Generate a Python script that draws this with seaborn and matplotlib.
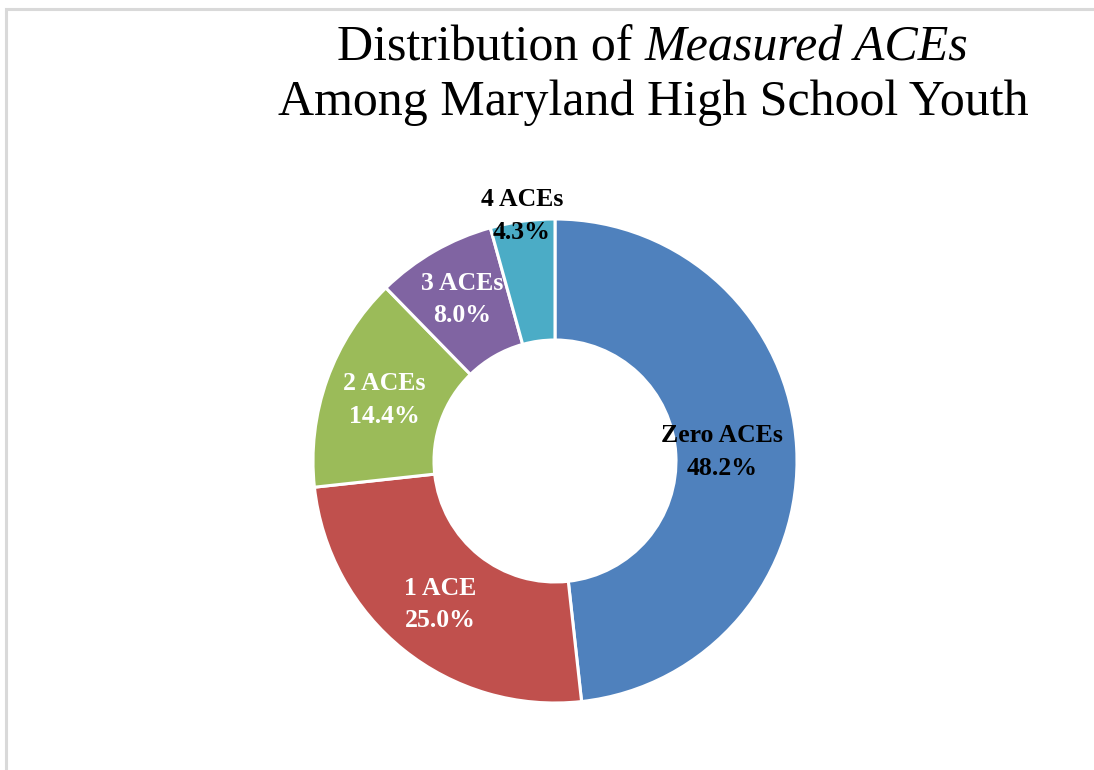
"""Donut chart: distribution of measured ACEs among Maryland high school youth"""

import numpy as np
import seaborn as sns
import matplotlib.pyplot as plt
from matplotlib.patches import Rectangle

sns.set_style("white")
plt.rcParams['font.family'] = ['Liberation Serif', 'DejaVu Serif']
plt.rcParams['text.color'] = 'black'

# data
categories = ['Zero ACEs', '1 ACE', '2 ACEs', '3 ACEs', '4 ACEs']
shares = [48.2, 25.0, 14.4, 8.0, 4.3]
colors = sns.color_palette(['#4F81BD', '#C0504D', '#9BBB59', '#8064A2', '#4BACC6'])
label_colors = ['black', 'white', 'white', 'white', 'black']
label_radius = [0.69, 0.76, 0.75, 0.77, 1.02]

W, H = 1094, 770
fig = plt.figure(figsize=(W / 100, H / 100), dpi=100)

# light frame at top/left like the source screenshot
fig.patches.append(Rectangle((6 / W, -0.1), 1.2, 1 - 9 / H + 0.1, transform=fig.transFigure,
                             fill=False, edgecolor='#D9D9D9', linewidth=2.2))

cx, cy, R = 555, 770 - 461, 242
ax = fig.add_axes([(cx - R) / W, (cy - R) / H, 2 * R / W, 2 * R / H])
wedges, _ = ax.pie(shares, colors=colors, startangle=90, counterclock=False,
                   radius=1, wedgeprops=dict(width=0.5, edgecolor='white', linewidth=2.2))
ax.set_xlim(-1, 1)
ax.set_ylim(-1, 1)
ax.set_aspect('equal')
ax.axis('off')

for w, name, val, tc, r in zip(wedges, categories, shares, label_colors, label_radius):
    ang = np.deg2rad((w.theta1 + w.theta2) / 2)
    ax.text(r * np.cos(ang), r * np.sin(ang), f"{name}\n{val:.1f}%", ha='center', va='center',
            color=tc, fontsize=18.5, fontweight='bold', linespacing=1.55, clip_on=False)

# title, first line mixes roman and italic
title_size = 36
tx = 653 / W
fig.canvas.draw()
renderer = fig.canvas.get_renderer()
p1 = fig.text(0, 1 - 48 / H, "Distribution of ", fontsize=title_size, va='center', ha='left')
p2 = fig.text(0, 1 - 48 / H, "Measured ACEs", fontsize=title_size, va='center', ha='left',
              style='italic')
w1 = p1.get_window_extent(renderer).width / W
w2 = p2.get_window_extent(renderer).width / W
x0 = tx - (w1 + w2) / 2
p1.set_x(x0)
p2.set_x(x0 + w1)
fig.text(tx, 1 - 103 / H, "Among Maryland High School Youth", fontsize=title_size,
         va='center', ha='center')

plt.savefig('out.png', dpi=100)
plt.close()
